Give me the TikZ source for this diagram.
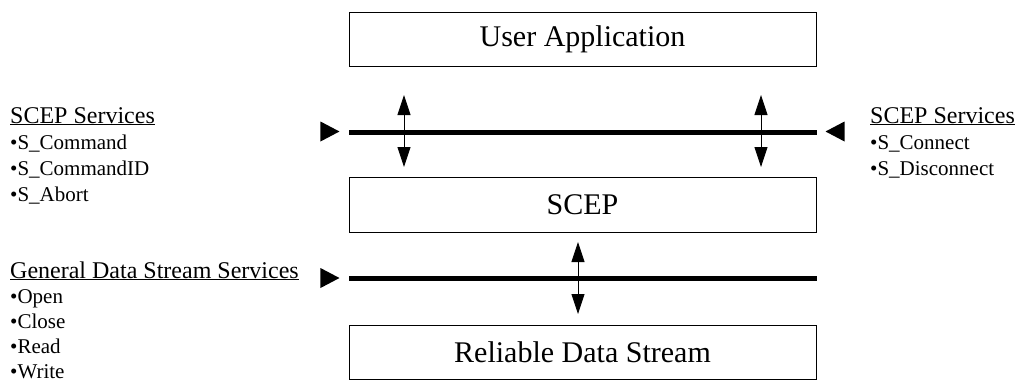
\documentclass[tikz,border=0pt]{standalone}
\usepackage{fontspec}
\setmainfont{Liberation Serif}
\usetikzlibrary{arrows.meta,shapes.geometric,positioning}
\tikzstyle{layer}   = [rectangle, draw, line width=0.9pt, minimum width=467pt,
                       minimum height=54pt, inner sep=0pt, font=\fontsize{30}{36}\selectfont]
\tikzstyle{bus}     = [draw, line width=5pt]
\tikzstyle{svc}     = [draw, line width=0.9pt, {Triangle[length=20pt,width=13pt]}-{Triangle[length=20pt,width=13pt]}]
\tikzstyle{marker}  = [isosceles triangle, isosceles triangle stretches, fill=black,
                       minimum width=20pt, minimum height=19pt, inner sep=0pt]
\tikzstyle{title}   = [anchor=base west, inner sep=0pt, font=\fontsize{24}{28}\selectfont]
\tikzstyle{item}    = [anchor=base west, inner sep=0pt, font=\fontsize{21}{25}\selectfont]
\begin{document}
\begin{tikzpicture}[x=1pt, y=-1pt]
	\useasboundingbox (0,0) rectangle (1019,381);
	% protocol layers
	\node[layer] (app) at (582.5,39) {User Application};
	\node[layer, minimum height=55pt] (scep) at (582.5,204.5) {SCEP};
	\node[layer] (rds) at (582.5,352) {Reliable Data Stream};

	% service interfaces
	\coordinate (busAw) at (349,132);
	\coordinate (busAe) at (817,132);
	\coordinate (busBw) at (349,278);
	\coordinate (busBe) at (817,278);
	\draw[bus] (busAw) -- (busAe);
	\draw[bus] (busBw) -- (busBe);

	\node[marker, anchor=apex] (mA) at (340,131.5) {};
	\node[marker, shape border rotate=180, anchor=apex] (mB) at (825,131.5) {};
	\node[marker, anchor=apex] (mC) at (340,278) {};

	\coordinate (a1t) at (404,95);  \coordinate (a1b) at (404,167);
	\coordinate (a2t) at (761,95);  \coordinate (a2b) at (761,167);
	\coordinate (a3t) at (578,242); \coordinate (a3b) at (578,314);
	\draw[svc] (a1t) -- (a1b);
	\draw[svc] (a2t) -- (a2b);
	\draw[svc] (a3t) -- (a3b);

	% service lists
	\node[title] (scepL) at (10,123) {\underline{SCEP Services}};
	\foreach \t [count=\i] in {S\_Command, S\_CommandID, S\_Abort}
		\node[item] (scepL\i) at (10,{123+26*\i}) {\textbullet\t};
	\node[title] (scepR) at (870,123) {\underline{SCEP Services}};
	\foreach \t [count=\i] in {S\_Connect, S\_Disconnect}
		\node[item] (scepR\i) at (870,{123+26*\i}) {\textbullet\t};
	\node[title] (gds) at (10,278) {\underline{General Data Stream Services}};
	\foreach \t [count=\i] in {Open, Close, Read, Write}
		\node[item] (gds\i) at (10,{278+25*\i}) {\textbullet\t};
\end{tikzpicture}
\end{document}
